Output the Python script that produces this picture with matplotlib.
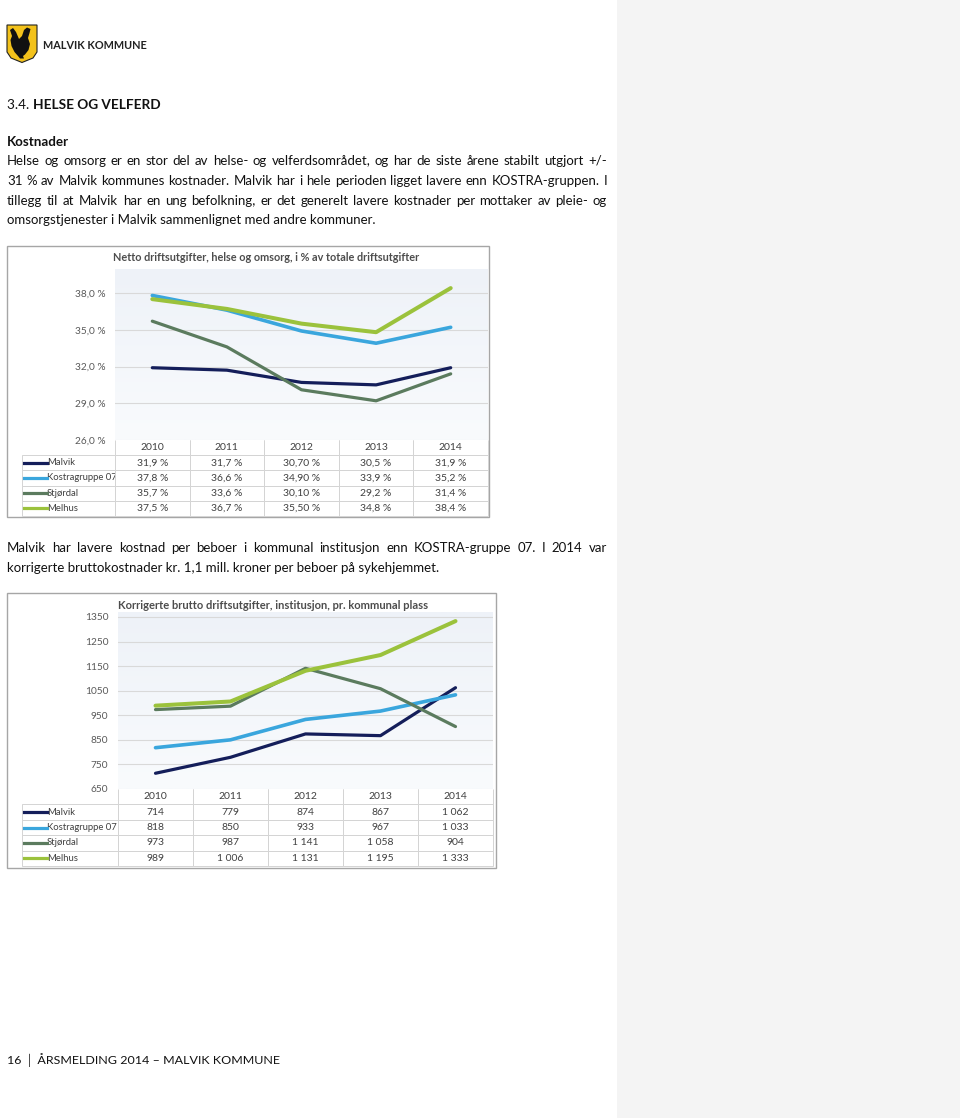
import matplotlib
matplotlib.use("Agg")
import matplotlib.pyplot as plt
from matplotlib import font_manager as fm
import numpy as np
from matplotlib.patches import Rectangle, Polygon
from matplotlib.lines import Line2D

# ---------------- data ----------------
years = ['2010', '2011', '2012', '2013', '2014']
series_names = ['Malvik', 'Kostragruppe 07', 'Stjørdal', 'Melhus']

malvik_pct = [31.9, 31.7, 30.70, 30.5, 31.9]
kostra_pct = [37.8, 36.6, 34.90, 33.9, 35.2]
stjordal_pct = [35.7, 33.6, 30.10, 29.2, 31.4]
melhus_pct = [37.5, 36.7, 35.50, 34.8, 38.4]
pct_decimals = [1, 1, 2, 1, 1]
pct_ticks = [26.0, 29.0, 32.0, 35.0, 38.0]

malvik_kr = [714, 779, 874, 867, 1062]
kostra_kr = [818, 850, 933, 967, 1033]
stjordal_kr = [973, 987, 1141, 1058, 904]
melhus_kr = [989, 1006, 1131, 1195, 1333]
kr_ticks = [650, 750, 850, 950, 1050, 1150, 1250, 1350]

title1 = 'Netto driftsutgifter, helse og omsorg, i % av totale driftsutgifter'
title2 = 'Korrigerte brutto driftsutgifter, institusjon, pr. kommunal plass'

para1 = ['Helse og omsorg er en stor del av helse- og velferdsområdet, og har de siste årene stabilt utgjort +/-',
         '31 % av Malvik kommunes kostnader. Malvik har i hele perioden ligget lavere enn KOSTRA-gruppen. I',
         'tillegg til at Malvik har en ung befolkning, er det generelt lavere kostnader per mottaker av pleie- og',
         'omsorgstjenester i Malvik sammenlignet med andre kommuner.']
para2 = ['Malvik har lavere kostnad per beboer i kommunal institusjon enn KOSTRA-gruppe 07. I 2014 var',
         'korrigerte bruttokostnader kr. 1,1 mill. kroner per beboer på sykehjemmet.']

# ---------------- style ----------------
colors = ['#141e5a', '#3aa6dd', '#5b7b5e', '#9bc23c']
lws = [2.3, 2.6, 2.3, 2.9]
FONT = 'Lato'
plt.rcParams['font.family'] = [FONT, 'DejaVu Sans']

try:
    fm.findfont(fm.FontProperties(family='Liberation Sans Narrow'), fallback_to_default=False)
    LOGO_FONT = 'Liberation Sans Narrow'
except Exception:
    LOGO_FONT = FONT

W, H = 960, 1118
DPI = 100
fig = plt.figure(figsize=(W / DPI, H / DPI), dpi=DPI)
fig.patch.set_facecolor('white')
renderer = fig.canvas.get_renderer()

bg = fig.add_axes([0, 0, 1, 1], zorder=0)
bg.set_xlim(0, W)
bg.set_ylim(H, 0)
bg.axis('off')


def measure(s, size, weight='normal', family=FONT):
    t = bg.text(0, 0, s, fontsize=size, weight=weight, family=family)
    w = t.get_window_extent(renderer).width
    t.remove()
    return w


def fit_size(s, target, weight='normal', base=10.0, family=FONT):
    return base * target / measure(s, base, weight, family)


def put(x, y, s, size, weight='normal', color='#111111', family=FONT):
    # y = baseline in px; use bottom alignment (consistent across words)
    bg.text(x, y + size * 100 / 72 * 0.2, s, fontsize=size, weight=weight, color=color,
            va='bottom', family=family)


# sidebar
bg.add_patch(Rectangle((617, 0), W - 617, H, facecolor='#f4f4f4', edgecolor='none'))

# logo
shield = [(7, 25), (37, 25), (37, 52), (33, 58), (22, 62.5), (11, 58), (7, 52)]
bg.add_patch(Polygon(shield, closed=True, facecolor='#f3c21b', edgecolor='#222222', lw=0.8))
bird = [(10, 30), (13, 28), (16, 32), (19, 39), (22, 36), (24, 30), (27, 27.5), (30.5, 29),
        (29.5, 33), (28, 38), (30, 44), (28.5, 50), (25, 54.5), (23, 56), (24, 58.5), (20, 58.5),
        (18, 56), (14.5, 52), (11.5, 46), (10.5, 40), (12, 36)]
bg.add_patch(Polygon(bird, closed=True, facecolor='#111111', edgecolor='none'))
s = fit_size('MALVIK KOMMUNE', 104, 'bold', family=LOGO_FONT)
put(43, 49, 'MALVIK KOMMUNE', s, 'bold', '#222222', LOGO_FONT)

# heading
p1, p2 = '3.4. ', 'HELSE OG VELFERD'
base = 10.0
wtot = measure(p1, base) + measure(p2, base, 'bold')
hs = base * 153 / wtot
put(7, 108, p1, hs)
put(7 + measure(p1, hs), 108, p2, hs, 'bold')
ks = fit_size('Kostnader', 62, 'bold')
put(7, 145, 'Kostnader', ks, 'bold')

# body text: size calibrated on last line, capped so justified lines fit
bs = fit_size(para1[-1], 405)
for line in para1[:-1] + para2[:-1]:
    bs = min(bs, fit_size(line, 592))


def draw_line(line, y, justify):
    yb = y + 4
    if not justify:
        put(7, yb, line, bs)
        return
    words = line.split(' ')
    ws = [measure(w, bs) for w in words]
    gap = (600 - sum(ws)) / (len(words) - 1)
    x = 7
    for w, wd in zip(words, ws):
        put(x, yb, w, bs)
        x += wd + gap


for i, (line, y) in enumerate(zip(para1, [160, 180, 200, 219])):
    draw_line(line, y, i < len(para1) - 1)
for i, (line, y) in enumerate(zip(para2, [547, 567])):
    draw_line(line, y, i < len(para2) - 1)

# footer
foot = '16 │ ÅRSMELDING 2014 – MALVIK KOMMUNE'
fs = fit_size(foot, 271)
put(7, 1065, foot, fs)

# chart frames
bg.add_patch(Rectangle((7, 246), 482, 271, facecolor='white', edgecolor='#a6a6a6', lw=1))
bg.add_patch(Rectangle((7, 593), 489, 275, facecolor='white', edgecolor='#a6a6a6', lw=1))

t1s = fit_size(title1, 308, 'bold')
put(113, 261, title1, t1s, 'bold', '#4d4d4d')
t2s = fit_size(title2, 310, 'bold')
put(118, 609, title2, t2s, 'bold', '#4d4d4d')


def add_ax(x0, y0, x1, y1):
    return fig.add_axes([x0 / W, 1 - y1 / H, (x1 - x0) / W, (y1 - y0) / H], zorder=2)


def make_chart(rect, ylim, ticks, tick_fmt, data, table_text, label_x0, table_bottom):
    x0, y0, x1, y1 = rect
    ax = add_ax(x0, y0, x1, y1)
    ax.patch.set_alpha(0)
    grad = np.linspace(1, 0, 100).reshape(-1, 1)
    ax.imshow(grad, extent=(-0.5, 4.5, ylim[0], ylim[1]), aspect='auto', origin='lower',
              cmap=matplotlib.colors.LinearSegmentedColormap.from_list('g', ['#eef2f8', '#f9fbfd']),
              zorder=0)
    xs = np.arange(len(years))
    for vals, c, lw in zip(data, colors, lws):
        ax.plot(xs, vals, color=c, lw=lw, solid_capstyle='round', solid_joinstyle='round', zorder=3)
    ax.set_xlim(-0.5, 4.5)
    ax.set_ylim(*ylim)
    ax.set_yticks(ticks)
    ax.set_yticklabels([tick_fmt(t) for t in ticks])
    ax.set_xticks([])
    for t in ticks:
        ax.axhline(t, color='#d9d9d9', lw=0.8, zorder=1)
    for sp in ax.spines.values():
        sp.set_visible(False)
    ax.tick_params(axis='y', length=0, pad=7, labelsize=7.3, labelcolor='#595959')

    # data table (bbox covers the data grid; row labels extend to the left)
    ah = y1 - y0
    aw = x1 - x0
    th = table_bottom - y1
    nrows = len(series_names) + 1
    rh = th / nrows
    col_w = 1.0 / len(years)
    lab_w = (x0 - label_x0) / aw
    tab = ax.table(cellText=table_text, rowLabels=series_names, colLabels=years,
                   cellLoc='center', rowLoc='left',
                   colWidths=[col_w] * len(years), bbox=[0, -th / ah, 1, th / ah])
    if hasattr(tab, '_autoColumns'):
        tab._autoColumns = [c for c in tab._autoColumns if c != -1]
    tab.auto_set_font_size(False)
    tab.set_fontsize(7.5)
    for (r, c), cell in tab.get_celld().items():
        cell.set_edgecolor('#d4d4d4')
        cell.set_linewidth(0.7)
        cell.set_facecolor('white')
        cell.get_text().set_color('#404040')
        if c == -1:
            cell.set_width(lab_w)
            cell.PAD = (25 / aw) / lab_w
            cell.get_text().set_ha('left')
            cell.get_text().set_fontsize(6.8)
            cell.get_text().set_clip_on(False)
        else:
            cell.set_width(col_w)
        cell.set_height(rh / ah)
        if r == 0:
            cell.visible_edges = 'BRL'
    for i, c in enumerate(colors):
        yc = y1 + rh * (i + 1.5)
        ya = (y1 - yc) / ah
        ax.add_line(Line2D([(label_x0 + 2 - x0) / aw, (label_x0 + 25 - x0) / aw], [ya, ya],
                           transform=ax.transAxes, color=c, lw=2.3, clip_on=False, zorder=5))
    return ax


def pct_fmt(v, d=1):
    return f'{v:.{d}f}'.replace('.', ',') + ' %'


def kr_fmt(v):
    return f'{v:,}'.replace(',', ' ')


pct_data = [malvik_pct, kostra_pct, stjordal_pct, melhus_pct]
pct_text = [[pct_fmt(v, d) for v, d in zip(vals, pct_decimals)] for vals in pct_data]
make_chart((115, 268.5, 488, 440), (26, 40), pct_ticks, lambda t: pct_fmt(t), pct_data,
           pct_text, 22, 516)

kr_data = [malvik_kr, kostra_kr, stjordal_kr, melhus_kr]
kr_text = [[kr_fmt(v) for v in vals] for vals in kr_data]
make_chart((118, 612, 493, 789), (650, 1370), kr_ticks, lambda t: str(t), kr_data,
           kr_text, 22, 866)

fig.savefig('out.png', dpi=DPI)
